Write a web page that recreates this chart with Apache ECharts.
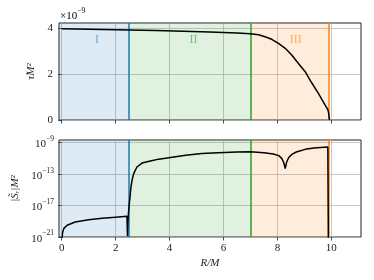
<!DOCTYPE html>
<html><head><meta charset="utf-8">
<script src="https://cdn.jsdelivr.net/npm/echarts@6/dist/echarts.min.js"></script>
<style>html,body{margin:0;padding:0;background:#fff}#c{width:374px;height:280px}</style>
</head><body><div id="c"></div>
<script>
// ---- data ----
const R_TOP = [0, 1, 2, 2.48, 3.5, 4.5, 5.5, 6.5, 7.0, 7.3, 7.54, 7.79, 8.04, 8.29, 8.53, 8.78, 9.03, 9.27, 9.52, 9.77, 9.87, 9.90, 9.93];
const TAU   = [3.97, 3.95, 3.93, 3.92, 3.89, 3.86, 3.83, 3.79, 3.75, 3.71, 3.62, 3.51, 3.33, 3.12, 2.83, 2.46, 2.10, 1.62, 1.16, 0.65, 0.45, 0.3, 0.0]; // x 1e-9
const R_BOT = [0.005, 0.03, 0.08, 0.2, 0.5, 1.0, 1.5, 2.0, 2.42, 2.44, 2.455, 2.48, 2.51, 2.54, 2.57, 2.61, 2.67, 2.79, 2.98, 3.29, 3.6, 4.1, 4.6, 5.2, 5.8, 6.5, 7.0, 7.5, 7.85, 8.05, 8.16, 8.23, 8.29, 8.34, 8.42, 8.55, 8.7, 9.03, 9.35, 9.6, 9.87, 9.89];
const S_R   = [1e-22, 3.16e-21, 1.26e-20, 3.16e-20, 7.9e-20, 1.58e-19, 2.34e-19, 3.3e-19, 4.2e-19, 1.26e-21, 1e-19, 1.58e-18, 2e-17, 2.1e-16, 2.5e-15, 1.66e-14, 1.15e-13, 7.9e-13, 2.5e-12, 4.6e-12, 7.9e-12, 1.4e-11, 2.5e-11, 4e-11, 5.2e-11, 6.3e-11, 7.1e-11, 5e-11, 3.5e-11, 2.2e-11, 1e-11, 3.2e-12, 5e-13, 3.2e-12, 1.26e-11, 3.5e-11, 6.3e-11, 1.38e-10, 2e-10, 2.4e-10, 2.7e-10, 1e-22];
const X_TICKS = [0, 2, 4, 6, 8, 10];
const TAU_TICKS = [0, 2, 4];
const S_TICKS = [1e-21, 1e-17, 1e-13, 1e-9];
const REGION_EDGES = [-0.1, 2.48, 7.0, 9.89];
const REGION_NAMES = ['I', 'II', 'III'];
const REGION_LABEL_X = [1.31, 4.89, 8.68];
const REGION_LABEL_Y = 3.48;

// ---- styles ----
const C = ['31,119,180', '44,160,44', '255,127,14'];
const LINE_C = ['#1f77b4', '#2ca02c', '#ff7f0e'];
const FONT = 'Liberation Serif';
const TXT = '#222';

const zip = (a, b) => a.map((v, i) => [v, b[i]]);

function regionMarks() {
  return {
    markArea: {
      silent: true, z: 1,
      data: REGION_NAMES.map((n, i) => [
        { xAxis: REGION_EDGES[i], itemStyle: { color: 'rgba(' + C[i] + ',0.15)' } },
        { xAxis: REGION_EDGES[i + 1] }
      ])
    },
    markLine: {
      silent: true, z: 2, symbol: 'none', label: { show: false },
      data: REGION_NAMES.map((n, i) => ({ xAxis: REGION_EDGES[i + 1], lineStyle: { color: LINE_C[i], width: 1.5, type: 'solid' } }))
    }
  };
}

const sup = {
  b: { fontFamily: FONT, fontSize: 11, color: TXT, lineHeight: 15, verticalAlign: 'bottom' },
  s: { fontFamily: FONT, fontSize: 7.5, color: TXT, lineHeight: 15, verticalAlign: 'top' }
};

function xAxisCfg(grid, showLabels) {
  return {
    type: 'value', gridIndex: grid, min: -0.1, max: 11.1,
    axisLine: { show: false },
    axisTick: { show: true, length: 3.5, customValues: X_TICKS, lineStyle: { color: TXT, width: 0.8 } },
    axisLabel: { show: showLabels, customValues: X_TICKS, fontFamily: FONT, fontSize: 11, color: TXT, margin: 6 },
    splitLine: { show: true, lineStyle: { color: '#b0b0b0', width: 1, opacity: 0.7 } },
    name: showLabels ? 'R/M' : '', nameLocation: 'middle', nameGap: 21,
    nameTextStyle: { fontFamily: FONT, fontSize: 11, fontStyle: 'italic', color: TXT }
  };
}

const option = {
  animation: false,
  grid: [
    { left: 59, right: 13, top: 23, height: 97, show: true, borderColor: '#222', borderWidth: 1, backgroundColor: 'transparent' },
    { left: 59, right: 13, top: 140, height: 97, show: true, borderColor: '#222', borderWidth: 1, backgroundColor: 'transparent' }
  ],
  xAxis: [xAxisCfg(0, false), xAxisCfg(1, true)],
  yAxis: [
    {
      type: 'value', gridIndex: 0, min: 0, max: 4.22,
      axisLine: { show: false },
      axisTick: { show: true, length: 3.5, customValues: TAU_TICKS, lineStyle: { color: TXT, width: 0.8 } },
      axisLabel: { customValues: TAU_TICKS, fontFamily: FONT, fontSize: 11, color: TXT, margin: 6 },
      splitLine: { show: true, lineStyle: { color: '#b0b0b0', width: 1, opacity: 0.7 } },
      name: 'τ̃M²', nameLocation: 'middle', nameGap: 16, nameRotate: 90,
      nameTextStyle: { fontFamily: FONT, fontSize: 11, fontStyle: 'italic', color: TXT }
    },
    {
      type: 'log', logBase: 10, gridIndex: 1, min: 1e-21, max: 2.14e-9,
      axisLine: { show: false },
      axisTick: { show: true, length: 3.5, customValues: S_TICKS, lineStyle: { color: TXT, width: 0.8 } },
      axisLabel: {
        customValues: S_TICKS, margin: 5,
        formatter: v => '{b|10}{s|−' + Math.abs(Math.round(Math.log10(v))) + '}',
        rich: sup
      },
      splitLine: { show: true, lineStyle: { color: '#b0b0b0', width: 1, opacity: 0.7 } },
      name: '|S̃ᵣ|M²', nameLocation: 'middle', nameGap: 35, nameRotate: 90,
      nameTextStyle: { fontFamily: FONT, fontSize: 11, fontStyle: 'italic', color: TXT }
    }
  ],
  graphic: [
    { type: 'text', left: 60, top: 7, style: { text: '{b|×10}{s|−9}', rich: sup } }
  ],
  series: [
    Object.assign({ type: 'line', xAxisIndex: 0, yAxisIndex: 0, data: [], z: 1, symbol: 'none' }, regionMarks()),
    Object.assign({ type: 'line', xAxisIndex: 1, yAxisIndex: 1, data: [], z: 1, symbol: 'none' }, regionMarks()),
    {
      type: 'scatter', xAxisIndex: 0, yAxisIndex: 0, symbolSize: 0, z: 4, silent: true,
      data: REGION_NAMES.map((n, i) => ({ name: n, value: [REGION_LABEL_X[i], REGION_LABEL_Y],
        label: { show: true, position: 'inside', formatter: '{b}', fontFamily: FONT, fontSize: 12, color: 'rgba(' + C[i] + ',0.75)' } }))
    },
    { type: 'line', xAxisIndex: 0, yAxisIndex: 0, data: zip(R_TOP, TAU), symbol: 'none', z: 3,
      lineStyle: { color: '#000', width: 1.5 } },
    { type: 'line', xAxisIndex: 1, yAxisIndex: 1, data: zip(R_BOT, S_R), symbol: 'none', z: 3, clip: true,
      lineStyle: { color: '#000', width: 1.5 } }
  ]
};
echarts.init(document.getElementById('c'), null, { renderer: 'canvas' }).setOption(option);
</script></body></html>
